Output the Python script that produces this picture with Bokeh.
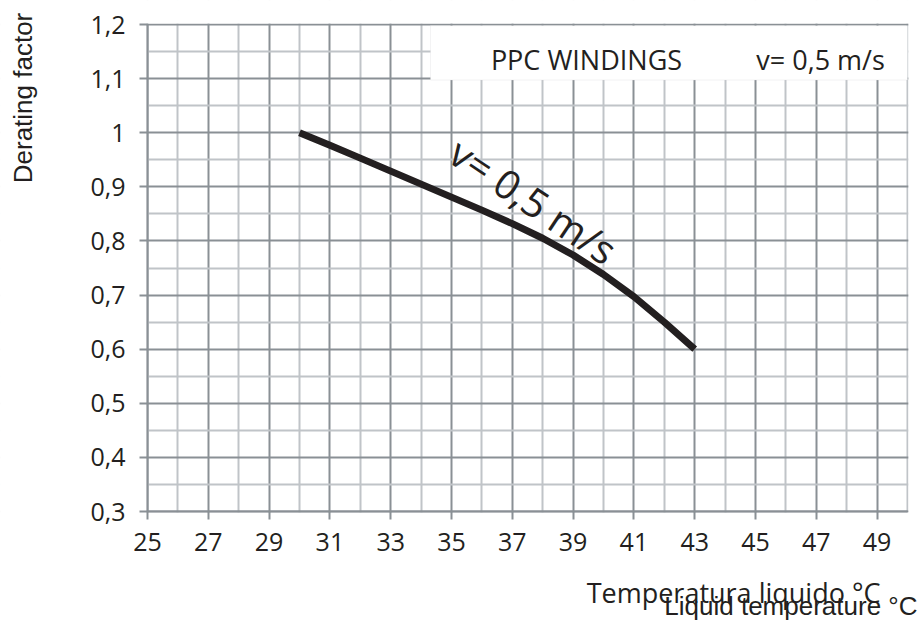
from bokeh.plotting import figure
from bokeh.models import FixedTicker, Range1d, Label, BoxAnnotation
from bokeh.embed import file_html
from bokeh.resources import INLINE

# ---- data ----
temp = [30, 31, 32, 33, 34, 35, 36, 37, 38, 39, 40, 41, 42, 43]
factor = [1.0, 0.977, 0.953, 0.929, 0.905, 0.881, 0.857, 0.832, 0.805, 0.774,
          0.738, 0.697, 0.650, 0.6]

x_ticks = [25, 27, 29, 31, 33, 35, 37, 39, 41, 43, 45, 47, 49]
x_minor = [26, 28, 30, 32, 34, 36, 38, 40, 42, 44, 46, 48, 50]
y_ticks = [0.3, 0.4, 0.5, 0.6, 0.7, 0.8, 0.9, 1.0, 1.1, 1.2]
y_labels = ["0,3", "0,4", "0,5", "0,6", "0,7", "0,8", "0,9", "1", "1,1", "1,2"]
y_minor = [0.35, 0.45, 0.55, 0.65, 0.75, 0.85, 0.95, 1.05, 1.15]

x_lo, x_hi = 25, 50
y_lo, y_hi = 0.3, 1.2

y_title = "Derating factor"
x_title_it = "Temperatura liquido °C"
x_title_en = "Liquid temperature °C"
box_title = "PPC WINDINGS"
box_speed = "v= 0,5 m/s"
curve_label = "v= 0,5 m/s"

DARK = "#8a9095"
LIGHT = "#c0c4c8"
INK = "#231f20"

W, H = 922, 621
# chart area in pixels: x 147..907, y 24..511
PX_X = 760 / (x_hi - x_lo)
PX_Y = 487 / (y_hi - y_lo)
x0 = x_lo - 147 / PX_X
x1 = x0 + W / PX_X
y1 = y_hi + 24 / PX_Y
y0 = y1 - H / PX_Y

p = figure(width=W, height=H,
           x_range=Range1d(x0, x1), y_range=Range1d(y0, y1),
           output_backend="svg", toolbar_location=None,
           min_border=0)
p.outline_line_color = None
p.background_fill_color = "white"
p.border_fill_color = "white"

p.xaxis.ticker = FixedTicker(ticks=x_ticks, minor_ticks=x_minor)
p.yaxis.ticker = FixedTicker(ticks=y_ticks, minor_ticks=y_minor)
p.yaxis.major_label_overrides = dict(zip(y_ticks, y_labels))
p.xaxis.fixed_location = y_lo
p.yaxis.fixed_location = x_lo
p.xaxis.bounds = (x_lo, x_hi)
p.yaxis.bounds = (y_lo, y_hi)

for ax in (p.xaxis, p.yaxis):
    ax.axis_line_color = DARK
    ax.axis_line_width = 2
    ax.major_tick_line_color = DARK
    ax.major_tick_line_width = 2
    ax.major_tick_in = 0
    ax.major_tick_out = 8
    ax.minor_tick_line_color = None
    ax.major_label_text_font = "Open Sans"
    ax.major_label_text_font_size = "25px"
    ax.major_label_text_color = INK
p.yaxis.major_label_standoff = 14
p.xaxis.major_label_standoff = 13

for g in (p.xgrid, p.ygrid):
    g.grid_line_color = DARK
    g.grid_line_width = 2
    g.grid_line_alpha = 1
    g.minor_grid_line_color = LIGHT
    g.minor_grid_line_width = 2

# white masks outside the chart area (grid lines span the whole frame)
eps_x = 1.2 / PX_X
eps_y = 1.2 / PX_Y
ox, oy = 1.0, 0.1
mask_left = [x0 - ox, x0 - ox, x0 - ox, x_hi + eps_x]
mask_right = [x1 + ox, x1 + ox, x_lo - eps_x, x1 + ox]
mask_bottom = [y0 - oy, y_hi + eps_y, y0 - oy, y0 - oy]
mask_top = [y_lo - eps_y, y1 + oy, y1 + oy, y1 + oy]
for _ in range(3):  # repeated to wipe anti-aliasing residue at the canvas edges
    p.quad(left=mask_left, right=mask_right, bottom=mask_bottom, top=mask_top,
           fill_color="white", fill_alpha=1, line_color=None)

# legend-like box at top right
p.add_layout(BoxAnnotation(left=34.31, right=x_hi, bottom=1.0974, top=y_hi - eps_y,
                           fill_color="white", fill_alpha=1,
                           line_color="#d4d7da", line_width=1))

p.line(temp, factor, line_width=7, line_color=INK, line_cap="butt", line_join="round")

p.add_layout(Label(x=39.44, y=1.1353, text=box_title, text_font="Open Sans",
                   text_font_size="27px", text_color=INK,
                   text_align="center", text_baseline="middle"))
p.add_layout(Label(x=47.14, y=1.1353, text=box_speed, text_font="Open Sans",
                   text_font_size="27px", text_color=INK,
                   text_align="center", text_baseline="middle"))
p.add_layout(Label(x=37.70, y=0.8745, text=curve_label, text_font="Open Sans",
                   text_font_size="40px", text_color=INK, angle=-0.59,
                   text_align="center", text_baseline="middle"))
p.add_layout(Label(x=20.921, y=1.0642, text=y_title, text_font="Liberation Sans",
                   text_font_size="26px", text_color=INK, angle=1.5708,
                   text_align="center", text_baseline="middle"))
p.add_layout(Label(x=49.112, y=0.1499, text=x_title_it, text_font="Open Sans",
                   text_font_size="27px", text_color=INK,
                   text_align="right", text_baseline="alphabetic"))
p.add_layout(Label(x=50.329, y=0.1245, text=x_title_en, text_font="Liberation Sans",
                   text_font_size="26px", text_color=INK,
                   text_align="right", text_baseline="alphabetic"))

open("out.html", "w").write(file_html(p, INLINE))
